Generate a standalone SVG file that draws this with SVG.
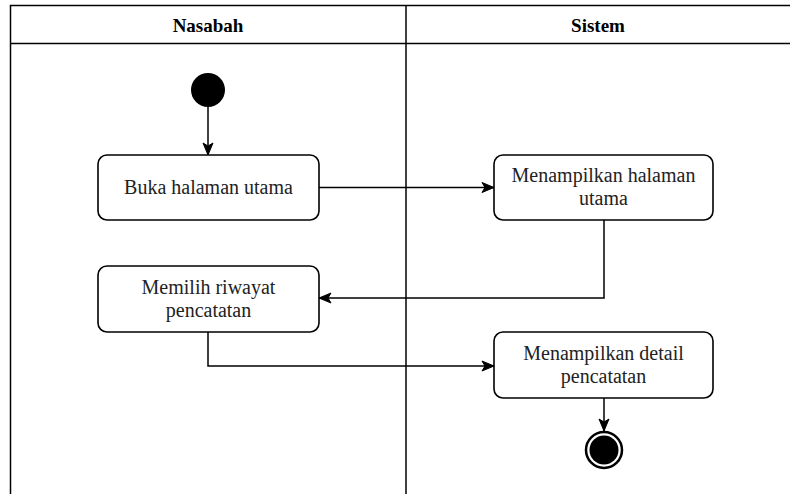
<svg xmlns="http://www.w3.org/2000/svg" width="790" height="494" viewBox="0 0 790 494">
  <style>
    .lane { fill: none; stroke: #000; stroke-width: 1.5; }
    .act { fill: #fff; stroke: #000; stroke-width: 1.6; }
    .lbl { font-family: "Liberation Serif", "Times New Roman", serif; font-size: 20px; fill: #222; text-anchor: middle; }
    .hdr { font-family: "Liberation Serif", "Times New Roman", serif; font-size: 19px; font-weight: bold; fill: #000; text-anchor: middle; }
    .edge { fill: none; stroke: #000; stroke-width: 1.5; }
  </style>
  <defs>
    <marker id="arrow" markerUnits="userSpaceOnUse" markerWidth="14" markerHeight="12" viewBox="0 0 14 12" refX="13" refY="6" orient="auto">
      <path d="M1,1 L13,6 L1,11 L4,6 Z" fill="#000" stroke="#000" stroke-width="1"/>
    </marker>
  </defs>
  <rect width="790" height="494" fill="#fff"/>

  <!-- swimlane frame -->
  <g id="lanes">
    <path class="lane" d="M10.5,494 V5.5 H790"/>
    <line class="lane" x1="10" y1="43.5" x2="790" y2="43.5" stroke="#444" stroke-width="2"/>
    <line class="lane" x1="406" y1="5.5" x2="406" y2="494"/>
    <text class="hdr" x="208" y="32">Nasabah</text>
    <text class="hdr" x="598" y="32">Sistem</text>
  </g>

  <!-- connectors -->
  <g id="connectors">
    <line class="edge" x1="208" y1="107" x2="208" y2="155" marker-end="url(#arrow)"/>
    <line class="edge" x1="319" y1="187.5" x2="494" y2="187.5" marker-end="url(#arrow)"/>
    <polyline class="edge" points="604,220 604,298 319,298" marker-end="url(#arrow)"/>
    <polyline class="edge" points="208,332 208,366 494,366" marker-end="url(#arrow)"/>
    <line class="edge" x1="604" y1="398" x2="604" y2="431" marker-end="url(#arrow)"/>
  </g>

  <g id="start">
    <circle cx="208" cy="90" r="17" fill="#000"/>
  </g>

  <g id="buka-halaman">
    <rect class="act" x="98" y="155" width="221" height="65" rx="9"/>
    <text class="lbl" x="208.5" y="194">Buka halaman utama</text>
  </g>

  <g id="tampil-halaman">
    <rect class="act" x="494" y="155" width="219" height="65" rx="9"/>
    <text class="lbl" x="603.5" y="182">Menampilkan halaman</text>
    <text class="lbl" x="603.5" y="205">utama</text>
  </g>

  <g id="pilih-riwayat">
    <rect class="act" x="98" y="266" width="221" height="66" rx="9"/>
    <text class="lbl" x="208.5" y="294">Memilih riwayat</text>
    <text class="lbl" x="208.5" y="317">pencatatan</text>
  </g>

  <g id="tampil-detail">
    <rect class="act" x="494" y="332" width="219" height="66" rx="9"/>
    <text class="lbl" x="603.5" y="360">Menampilkan detail</text>
    <text class="lbl" x="603.5" y="383">pencatatan</text>
  </g>

  <g id="end">
    <circle cx="604" cy="450" r="18" fill="#fff" stroke="#000" stroke-width="2.5"/>
    <circle cx="604" cy="450" r="14.5" fill="#000"/>
  </g>
</svg>
